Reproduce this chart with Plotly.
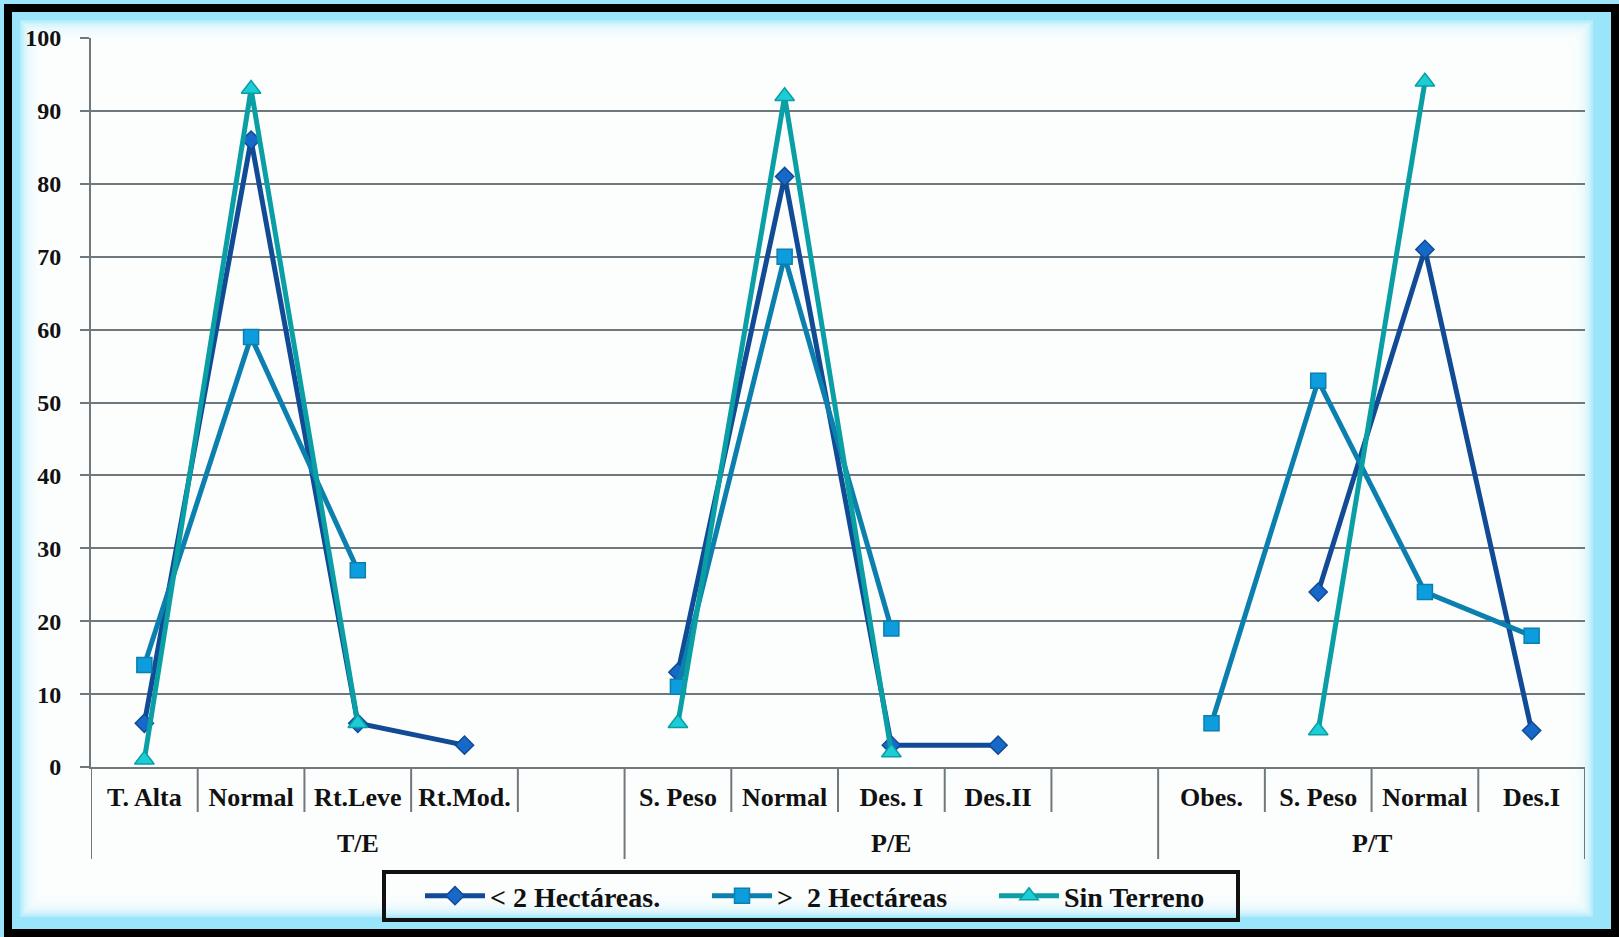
import plotly.graph_objects as go

# categorías (dos niveles, con huecos vacíos como en Excel)
categorias = ["T. Alta", "Normal", "Rt.Leve", "Rt.Mod.", "",
              "S. Peso", "Normal", "Des. I", "Des.II", "",
              "Obes.", "S. Peso", "Normal", "Des.I"]
grupo_de_cat = ["T/E"] * 5 + ["P/E"] * 5 + ["P/T"] * 4

# series
menos_2 = [6, 86, 6, 3, None, 13, 81, 3, 3, None, None, 24, 71, 5]
mas_2 = [14, 59, 27, None, None, 11, 70, 19, None, None, 6, 53, 24, 18]
sin_terreno = [1, 93, 6, None, None, 6, 92, 2, None, None, None, 5, 94, None]

W, H = 1619, 937
ML, MR, MT, MB = 91, 34, 38, 170
PW, PH = W - ML - MR, H - MT - MB
FONT = "Liberation Serif"
GRIS = "#6f787d"


def px_x(p):
    return (p - ML) / PW


def px_y(p):
    return (H - MB - p) / PH


x = list(range(len(categorias)))

fig = go.Figure()

series = [
    ("&lt; 2 Hectáreas.", menos_2, "#114a95", "#1769c9", "diamond", 14),
    ("&gt;  2 Hectáreas", mas_2, "#0b7fae", "#0d9ddf", "square", 15),
    ("Sin Terreno", sin_terreno, "#0a9ea5", "#1ccdd5", "triangle-up", 17),
]
for nombre, vals, c_linea, c_marca, simbolo, tam in series:
    fig.add_trace(go.Scatter(
        x=x, y=vals, name=nombre, mode="lines+markers",
        connectgaps=False,
        line=dict(color=c_linea, width=5),
        marker=dict(symbol=simbolo, size=tam, color=c_marca,
                    line=dict(color=c_linea, width=1.5)),
        cliponaxis=False,
    ))

shapes = []
# fondo azul claro con resplandor y marco negro
shapes.append(dict(type="rect", xref="paper", yref="paper", layer="below",
                   x0=px_x(0), x1=px_x(W), y0=px_y(H), y1=px_y(0),
                   fillcolor="#9be5fa", line=dict(width=0)))
for i in range(12):
    d = 20 + i * 2
    shapes.append(dict(type="rect", xref="paper", yref="paper", layer="below",
                       x0=px_x(d), x1=px_x(W - d - 6), y0=px_y(H - d), y1=px_y(d),
                       fillcolor="rgba(255,255,255,0.27)", line=dict(width=0)))
shapes.append(dict(type="rect", xref="paper", yref="paper", layer="below",
                   x0=px_x(8), x1=px_x(W - 4), y0=px_y(H - 4), y1=px_y(8),
                   fillcolor="rgba(0,0,0,0)", line=dict(color="#000", width=8)))
# recuadro de la leyenda
shapes.append(dict(type="rect", xref="paper", yref="paper",
                   x0=px_x(384), x1=px_x(1238), y0=px_y(920), y1=px_y(872),
                   fillcolor="rgba(0,0,0,0)", line=dict(color="#111", width=4)))

# divisores del eje de categorías
corto, largo = px_y(H - MB + 45), px_y(H - MB + 92)
inicios = [i for i in range(len(grupo_de_cat)) if i == 0 or grupo_de_cat[i] != grupo_de_cat[i - 1]]
limites_grupo = [i - 0.5 for i in inicios] + [len(categorias) - 0.5]
for k in range(len(categorias) + 1):
    pos = k - 0.5
    shapes.append(dict(type="line", xref="x", yref="paper", x0=pos, x1=pos,
                       y0=0, y1=largo if pos in limites_grupo else corto,
                       line=dict(color=GRIS, width=2)))

annotations = []
for a, b in zip(limites_grupo[:-1], limites_grupo[1:]):
    annotations.append(dict(x=(a + b) / 2, y=px_y(H - MB + 76), xref="x", yref="paper",
                            text=grupo_de_cat[int(a + 0.5)], showarrow=False,
                            yanchor="middle",
                            font=dict(family=FONT, size=26, color="#111", weight=700)))

fig.update_layout(
    width=W, height=H,
    margin=dict(l=ML, r=MR, t=MT, b=MB),
    paper_bgcolor="#9be5fa",
    plot_bgcolor="rgba(0,0,0,0)",
    shapes=shapes,
    annotations=annotations,
    xaxis=dict(range=[-0.5, len(categorias) - 0.5], tickvals=x, ticktext=categorias,
               showgrid=False, zeroline=False, showline=True, linecolor=GRIS, linewidth=2,
               ticks="", ticklabelstandoff=6,
               tickfont=dict(family=FONT, size=26, color="#111", weight=700)),
    yaxis=dict(range=[0, 100], dtick=10, showgrid=True, gridcolor=GRIS, gridwidth=2,
               zeroline=False, showline=True, linecolor=GRIS, linewidth=2,
               ticks="outside", ticklen=9, tickcolor=GRIS, tickwidth=2,
               ticklabelstandoff=14,
               tickfont=dict(family=FONT, size=24, color="#111", weight=700)),
    legend=dict(orientation="h", x=px_x(420), xanchor="left",
                y=px_y(896), yanchor="middle",
                bgcolor="rgba(0,0,0,0)", borderwidth=0,
                itemwidth=60, entrywidth=212, entrywidthmode="pixels",
                font=dict(family=FONT, size=28, color="#111", weight=700)),
)

fig.write_html("out.html", config={"displayModeBar": False},
               post_script="document.body.style.margin='0';")
